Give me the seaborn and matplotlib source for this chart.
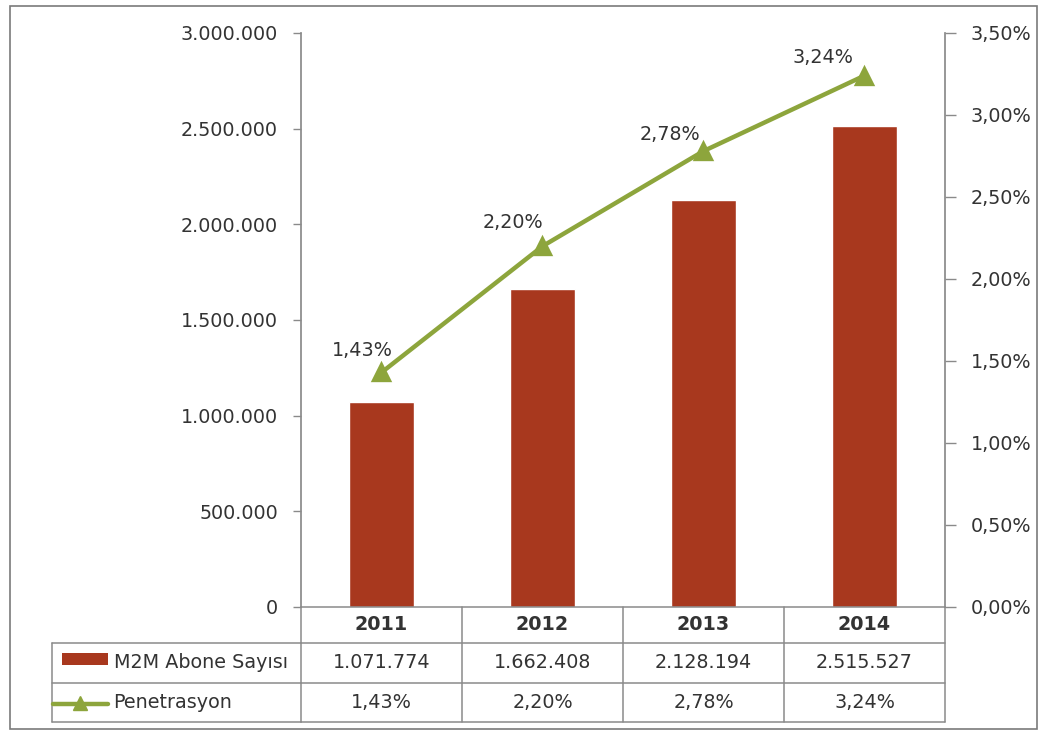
import matplotlib
matplotlib.use("Agg")
import matplotlib.pyplot as plt
import matplotlib.ticker as mticker
from matplotlib.transforms import blended_transform_factory
from matplotlib.patches import Rectangle
from matplotlib.lines import Line2D
import seaborn as sns

years = ["2011", "2012", "2013", "2014"]
subscribers = [1071774, 1662408, 2128194, 2515527]
penetration = [1.43, 2.20, 2.78, 3.24]
bar_label = "M2M Abone Sayısı"
line_label = "Penetrasyon"

BAR = "#A8381E"
LINE = "#8DA53C"
AXIS = "#8A8A8A"
TXT = "#333333"
FS = 13.8

sns.set_theme(style="white")
plt.rcParams["font.family"] = ["DejaVu Sans"]

W, H = 1042, 731
fig = plt.figure(figsize=(W / 100, H / 100), dpi=100)


def fx(px):
    return px / W


def fy(py):
    return 1 - py / H


def pct(v):
    return f"{v:.2f}%".replace(".", ",")


def thousands(v):
    return f"{int(v):,}".replace(",", ".")


ax = fig.add_axes([fx(301), fy(607), fx(945) - fx(301), fy(33) - fy(607)])
sns.barplot(x=years, y=subscribers, color=BAR, width=0.4, saturation=1, ax=ax)
ax.set_ylim(0, 3000000)
ax.set_yticks(range(0, 3000001, 500000))
ax.yaxis.set_major_formatter(mticker.FuncFormatter(lambda v, p: thousands(v)))
ax.set_xlabel("")
ax.set_ylabel("")
ax.set_xticklabels([])
ax.tick_params(axis="x", length=0)
ax.tick_params(axis="y", direction="out", length=6, width=1, color=AXIS,
               labelsize=FS, labelcolor=TXT, pad=10.5, left=True)
for s in ["top", "right", "bottom"]:
    ax.spines[s].set_visible(False)
ax.spines["left"].set_color(AXIS)

ax2 = ax.twinx()
sns.pointplot(x=years, y=penetration, color=LINE, marker="^", markersize=11,
              linewidth=3.2, ax=ax2)
ax2.set_ylim(0, 3.5)
ax2.set_yticks([0, 0.5, 1, 1.5, 2, 2.5, 3, 3.5])
ax2.yaxis.set_major_formatter(mticker.FuncFormatter(lambda v, p: pct(v)))
ax2.set_ylabel("")
ax2.set_xlabel("")
ax2.set_xlim(-0.5, 3.5)
ax.set_xlim(-0.5, 3.5)
ax2.tick_params(axis="y", direction="out", length=8, width=1, color=AXIS,
                labelsize=FS, labelcolor=TXT, pad=10.5, right=True)
for s in ["top", "left", "bottom"]:
    ax2.spines[s].set_visible(False)
ax2.spines["right"].set_color(AXIS)

# value labels above and to the left of each marker (offsets in points)
label_offsets = [(-14, 16), (-21, 17), (-24, 12), (-30, 13)]
for i, v in enumerate(penetration):
    ax2.annotate(pct(v), (i, v), xytext=label_offsets[i],
                 textcoords="offset points", ha="center", va="center",
                 fontsize=FS, color=TXT)

# data table below the plot
tb = blended_transform_factory(ax.transData, fig.transFigure)
tf = fig.transFigure
y_rows = [607, 643, 683, 722]
lc = dict(color=AXIS, lw=1.1)

for py in y_rows:
    fig.add_artist(Line2D([-0.5, 3.5], [fy(py)] * 2, transform=tb, **lc))
for py in y_rows[1:]:
    fig.add_artist(Line2D([fx(52), fx(301)], [fy(py)] * 2, transform=tf, **lc))
for xb in [-0.5, 0.5, 1.5, 2.5, 3.5]:
    fig.add_artist(Line2D([xb, xb], [fy(607), fy(722)], transform=tb, **lc))
fig.add_artist(Line2D([fx(52), fx(52)], [fy(643), fy(722)], transform=tf, **lc))

row_mid = [(y_rows[k] + y_rows[k + 1]) / 2 for k in range(3)]
for i, yr in enumerate(years):
    fig.text(i, fy(row_mid[0]), yr, transform=tb, ha="center", va="center",
             fontsize=FS, color=TXT, fontweight="bold")
    fig.text(i, fy(row_mid[1]), thousands(subscribers[i]), transform=tb,
             ha="center", va="center", fontsize=FS, color=TXT)
    fig.text(i, fy(row_mid[2]), pct(penetration[i]), transform=tb,
             ha="center", va="center", fontsize=FS, color=TXT)

# legend keys in the label column
fig.add_artist(Rectangle((fx(62), fy(665)), fx(108) - fx(62), fy(653) - fy(665),
                         transform=tf, facecolor=BAR, edgecolor="none"))
fig.text(fx(114), fy(row_mid[1]), bar_label, ha="left", va="center",
         fontsize=FS, color=TXT)
fig.add_artist(Line2D([fx(53), fx(108)], [fy(704)] * 2, transform=tf,
                      color=LINE, lw=3.2))
fig.add_artist(Line2D([fx(80)], [fy(703)], transform=tf, color=LINE,
                      marker="^", markersize=10, lw=0))
fig.text(fx(113), fy(row_mid[2]), line_label, ha="left", va="center",
         fontsize=FS, color=TXT)

# chart frame
fig.add_artist(Rectangle((fx(10), fy(729)), fx(1037) - fx(10), fy(6) - fy(729),
                         transform=tf, facecolor="none", edgecolor="#7A7A7A",
                         lw=1.2))

fig.savefig("out.png", dpi=100)
